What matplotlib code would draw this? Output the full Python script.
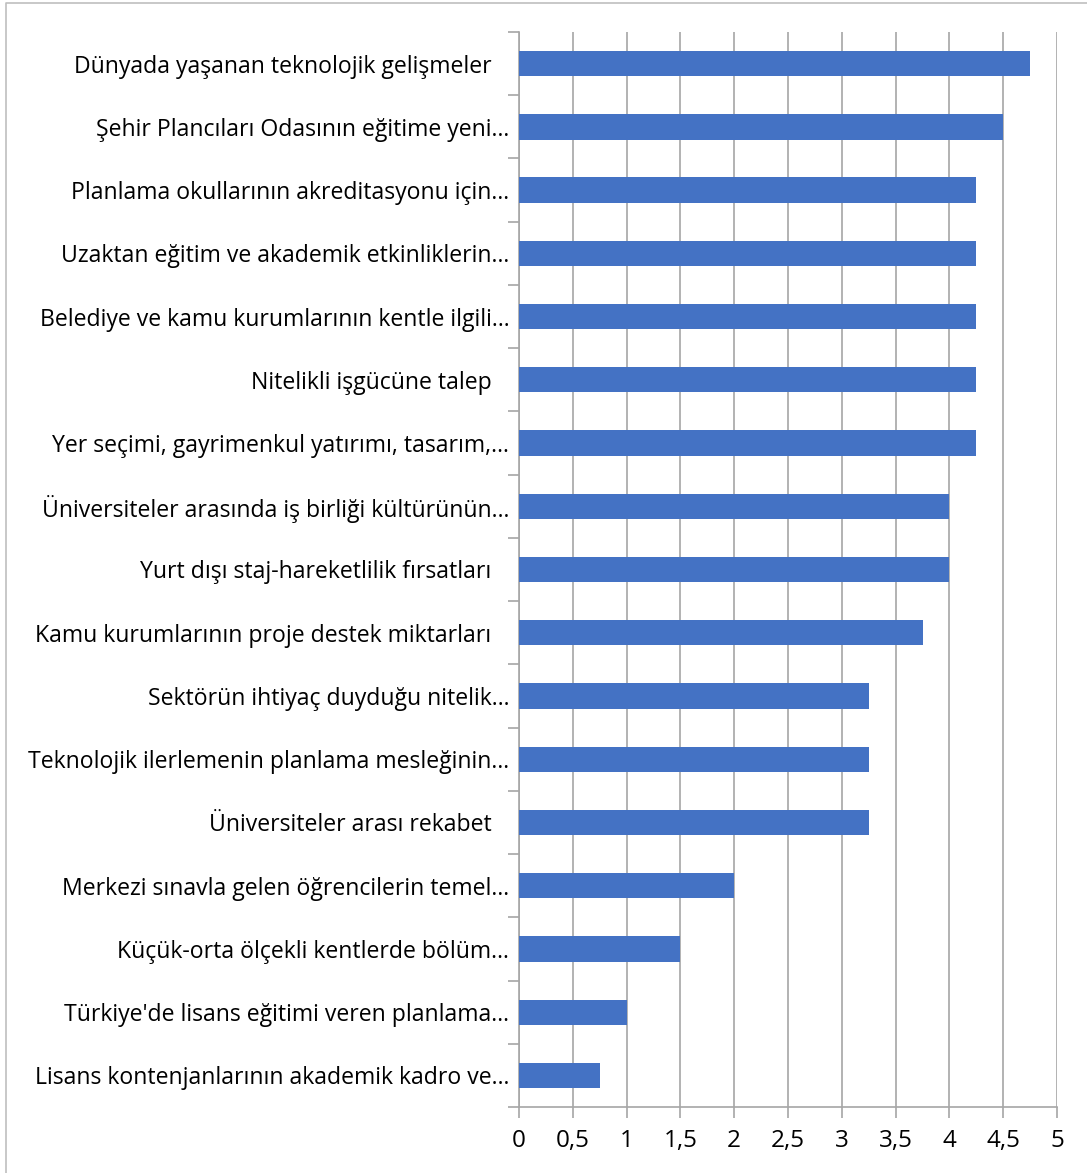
import matplotlib
matplotlib.use("Agg")
import matplotlib.pyplot as plt
from matplotlib.lines import Line2D
from matplotlib.ticker import FixedLocator, FuncFormatter

categories = [
    "Dünyada yaşanan teknolojik gelişmeler   ",
    "Şehir Plancıları Odasının eğitime yeni…",
    "Planlama okullarının akreditasyonu için…",
    "Uzaktan eğitim ve akademik etkinliklerin…",
    "Belediye ve kamu kurumlarının kentle ilgili…",
    "Nitelikli işgücüne talep   ",
    "Yer seçimi, gayrimenkul yatırımı, tasarım,…",
    "Üniversiteler arasında iş birliği kültürünün…",
    "Yurt dışı staj-hareketlilik fırsatları   ",
    "Kamu kurumlarının proje destek miktarları   ",
    "Sektörün ihtiyaç duyduğu nitelik…",
    "Teknolojik ilerlemenin planlama mesleğinin…",
    "Üniversiteler arası rekabet   ",
    "Merkezi sınavla gelen öğrencilerin temel…",
    "Küçük-orta ölçekli kentlerde bölüm…",
    "Türkiye'de lisans eğitimi veren planlama…",
    "Lisans kontenjanlarının akademik kadro ve…",
]
values = [4.75, 4.5, 4.25, 4.25, 4.25, 4.25, 4.25, 4.0, 4.0, 3.75,
          3.25, 3.25, 3.25, 2.0, 1.5, 1.0, 0.75]
xticks = [0, 0.5, 1, 1.5, 2, 2.5, 3, 3.5, 4, 4.5, 5]

W, H = 1087, 1173
fig = plt.figure(figsize=(W / 100, H / 100), dpi=100)
plt.rcParams['font.family'] = ['Open Sans', 'DejaVu Sans']

ax = fig.add_axes([519 / W, 1 - 1107 / H, (1057 - 519) / W, (1107 - 32) / H])

n = len(categories)
ypos = list(range(n - 1, -1, -1))
ax.barh(ypos, values, height=0.4, color="#4472C4", zorder=3)

ax.set_xlim(0, 5)
ax.set_ylim(-0.5, n - 0.5)
ax.xaxis.set_major_locator(FixedLocator(xticks))
ax.xaxis.set_major_formatter(FuncFormatter(lambda v, p: ("%g" % v).replace(".", ",")))
ax.grid(axis="x", color="#A6A6A6", linewidth=1.2, zorder=0)
ax.set_yticks(ypos)
ax.set_yticklabels(categories, fontsize=16.6)
ax.yaxis.set_minor_locator(FixedLocator([i - 0.5 for i in range(n + 1)]))
ax.tick_params(axis="y", which="major", length=0, pad=7)
ax.tick_params(axis="y", which="minor", length=8, color="#A6A6A6", width=1.2)
ax.tick_params(axis="x", length=8, color="#A6A6A6", width=1.2, labelsize=17.5, pad=8)

for s in ["top", "right"]:
    ax.spines[s].set_visible(False)
for s in ["left", "bottom"]:
    ax.spines[s].set_color("#A6A6A6")
    ax.spines[s].set_linewidth(1.2)

fig.add_artist(Line2D([6 / W, 6 / W, 1.0], [0.0, 1 - 3 / H, 1 - 3 / H],
                      transform=fig.transFigure, color="#BFBFBF", linewidth=1.2))

fig.savefig("out.png", dpi=100)
